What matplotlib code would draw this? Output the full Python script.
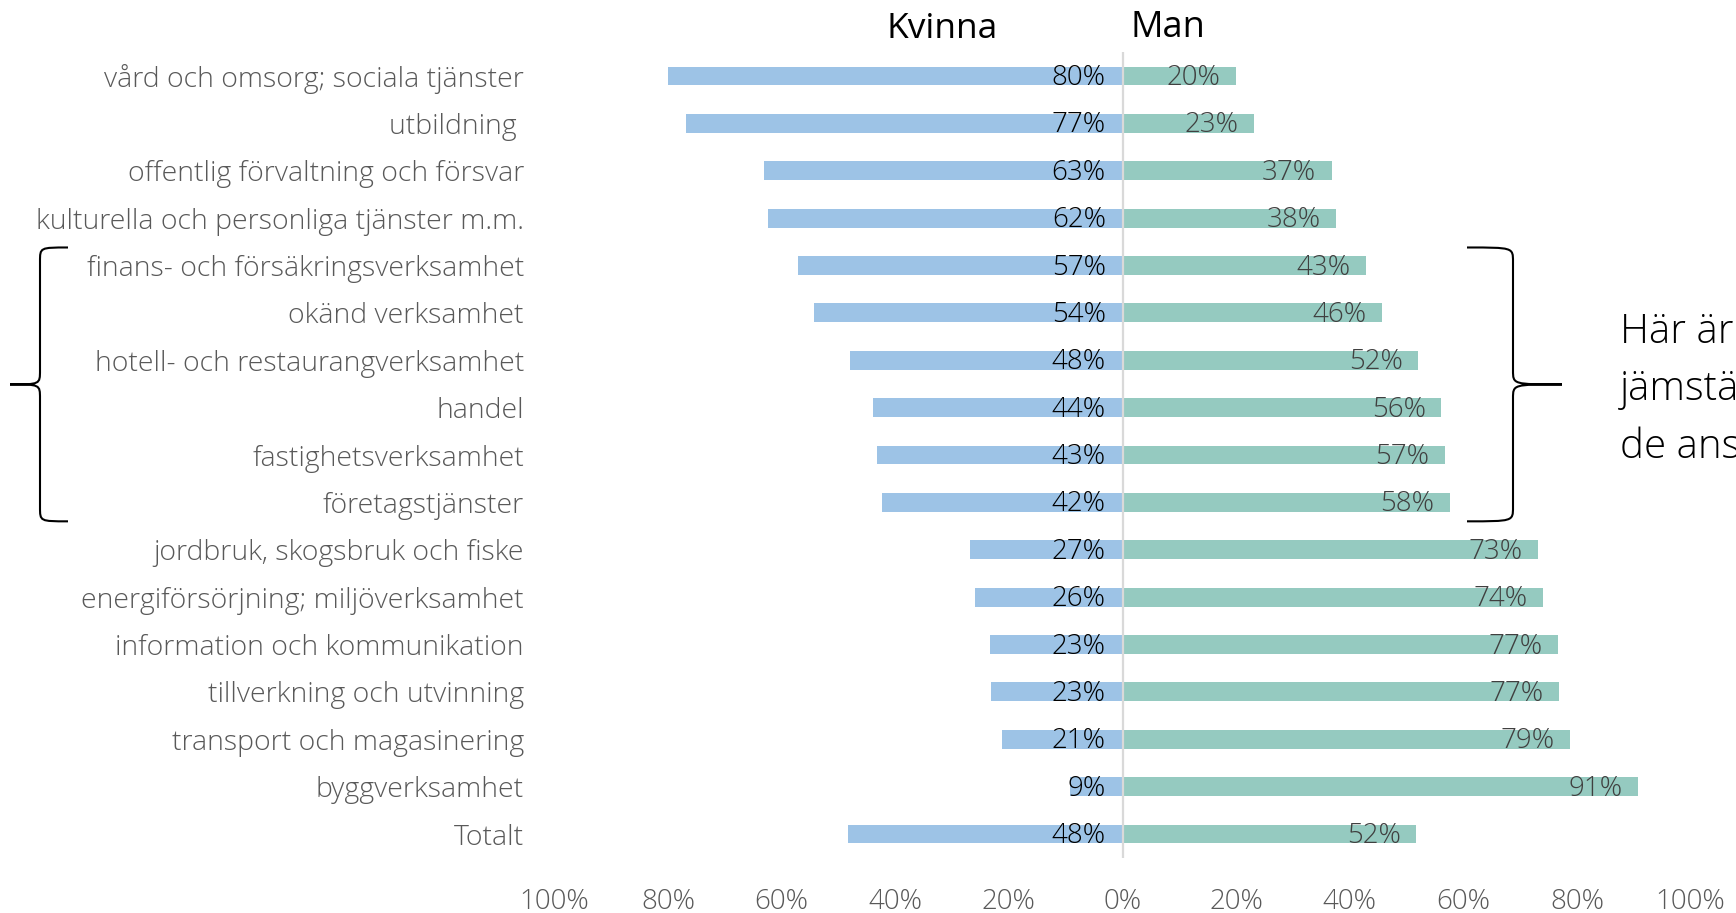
import matplotlib.pyplot as plt
from matplotlib.path import Path
from matplotlib.patches import PathPatch

# Andel anställda per bransch (procent)
categories = ['vård och omsorg; sociala tjänster', 'utbildning ',
              'offentlig förvaltning och försvar', 'kulturella och personliga tjänster m.m.',
              'finans- och försäkringsverksamhet', 'okänd verksamhet',
              'hotell- och restaurangverksamhet', 'handel', 'fastighetsverksamhet',
              'företagstjänster', 'jordbruk, skogsbruk och fiske',
              'energiförsörjning; miljöverksamhet', 'information och kommunikation',
              'tillverkning och utvinning', 'transport och magasinering',
              'byggverksamhet', 'Totalt']
kvinna = [80.1, 76.9, 63.2, 62.4, 57.1, 54.3, 48.0, 43.9, 43.3, 42.4,
          26.8, 26.0, 23.4, 23.2, 21.2, 9.3, 48.3]
man = [19.9, 23.1, 36.8, 37.6, 42.9, 45.7, 52.0, 56.1, 56.7, 57.6,
       73.2, 74.0, 76.6, 76.8, 78.8, 90.7, 51.7]
x_ticks = [-100, -80, -60, -40, -20, 0, 20, 40, 60, 80, 100]
x_ticklabels = ['100%', '80%', '60%', '40%', '20%', '0%', '20%', '40%', '60%', '80%', '100%']
note = 'Här är det mest\njämställt mellan\nde anställda'

plt.rcParams['font.family'] = ['Open Sans', 'DejaVu Sans']
plt.rcParams['font.weight'] = 300

W, H = 1736, 913
fig = plt.figure(figsize=(W / 100, H / 100), dpi=100)
ax = fig.add_axes([554.5 / W, 1 - 857.7 / H, 1136 / W, (857.7 - 52.3) / H])

rows = list(range(len(categories)))
ax.barh(rows, [-v for v in kvinna], height=0.4, color='#9dc3e6')
ax.barh(rows, man, height=0.4, color='#95cac0')
ax.axvline(0, color='#d9d9d9', lw=1.6)

for i in rows:
    ax.annotate(f'{round(kvinna[i])}%', (0, i), xytext=(-12, -1.5), textcoords='offset points',
                ha='right', va='center', fontsize=20, color='black')
    ax.annotate(f'{round(man[i])}%', (man[i], i), xytext=(-11, -1.5), textcoords='offset points',
                ha='right', va='center', fontsize=20, color='#404040')

ax.set_xlim(-100, 100)
ax.set_ylim(len(categories) - 0.5, -0.5)
ax.set_yticks(rows)
ax.set_yticklabels(categories, fontsize=20.5, color='#595959')
ax.set_xticks(x_ticks)
ax.set_xticklabels(x_ticklabels, fontsize=20, color='#595959')
ax.tick_params(length=0)
ax.tick_params(axis='y', pad=22)
ax.tick_params(axis='x', pad=22)
for s in ax.spines.values():
    s.set_visible(False)

# headers
ax.text(-22.0, 1.008, 'Kvinna', transform=ax.get_xaxis_transform(), ha='right', va='bottom',
        fontsize=25.5, color='black', fontweight='normal')
ax.text(1.4, 1.008, 'Man', transform=ax.get_xaxis_transform(), ha='left', va='bottom',
        fontsize=26, color='black', fontweight='normal')

# overlay in pixel coordinates for braces
ov = fig.add_axes([0, 0, 1, 1])
ov.set_xlim(0, W)
ov.set_ylim(H, 0)
ov.axis('off')
ov.patch.set_alpha(0)


def row_px(r):
    return H - ax.transData.transform((0, r))[1]


def brace(xe, xv, xt, y0, y1, r=14):
    ym = (y0 + y1) / 2
    verts = [(xe, y0), (xv, y0), (xv, y0), (xv, y0 + r),
             (xv, ym - r),
             (xv, ym), (xv, ym), (xt, ym),
             (xv, ym), (xv, ym), (xv, ym + r),
             (xv, y1 - r),
             (xv, y1), (xv, y1), (xe, y1)]
    codes = [Path.MOVETO, Path.CURVE4, Path.CURVE4, Path.CURVE4,
             Path.LINETO,
             Path.CURVE4, Path.CURVE4, Path.CURVE4,
             Path.CURVE4, Path.CURVE4, Path.CURVE4,
             Path.LINETO,
             Path.CURVE4, Path.CURVE4, Path.CURVE4]
    ov.add_patch(PathPatch(Path(verts, codes), fill=False, lw=1.5, color='black'))


y0, y1 = row_px(3.62), row_px(9.4)
brace(68, 40, 10, y0, y1)
brace(1467, 1513, 1562, y0, y1)

fig.text(1620 / W, 1 - 390 / H, note, ha='left', va='center', fontsize=29,
         color='black', linespacing=1.54)

fig.savefig('out.png', dpi=100)
